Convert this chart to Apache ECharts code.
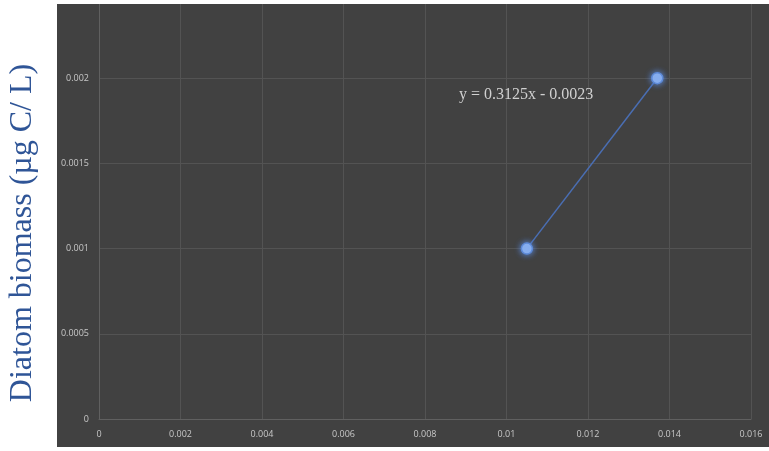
<!DOCTYPE html>
<html><head><meta charset="utf-8">
<script src="https://cdn.jsdelivr.net/npm/echarts@6/dist/echarts.min.js"></script>
<style>html,body{margin:0;padding:0;background:#fff}#c{width:769px;height:451px}</style>
</head><body><div id="c"></div>
<script>
const xValues = [0.0105, 0.0137];
const yValues = [0.001, 0.002];
const xTicks = ['0','0.002','0.004','0.006','0.008','0.01','0.012','0.014','0.016'];
const yTitle = 'Diatom biomass (µg C/ L)';
const equation = 'y = 0.3125x - 0.0023';

const chart = echarts.init(document.getElementById('c'), null, {renderer:'canvas'});
chart.setOption({
  backgroundColor: '#ffffff',
  animation: false,
  graphic: [
    {type:'rect', shape:{x:57, y:4, width:712, height:443}, style:{fill:'#414141'}, z:-10, silent:true},
    {type:'rect', shape:{x:0, y:0, width:769, height:4}, style:{fill:'#ffffff'}, z:100, silent:true},
    {type:'text', left:459, top:87, style:{text:equation, font:'16px "Liberation Serif", serif', fill:'#d0d0d0'}, z:50},
    {type:'text', x:23, y:233, rotation:Math.PI/2,
      style:{text:yTitle, font:'32px "Liberation Serif", "DejaVu Serif", serif', fill:'#2f5597', align:'center', verticalAlign:'middle'}, z:50}
  ],
  grid: {left:99, right:18, top:-7, bottom:32, containLabel:false, outerBoundsMode:'none'},
  xAxis: {
    type:'value', min:0, max:0.016, interval:0.002,
    axisLine:{show:true, lineStyle:{color:'#606060', width:1}},
    axisTick:{show:false},
    splitLine:{show:true, lineStyle:{color:'#535353', width:1}},
    axisLabel:{color:'#c8c8c8', fontSize:9, fontFamily:'"Open Sans", sans-serif', margin:11,
      formatter:(v)=>{const i=Math.round(v/0.002); return xTicks[i]!==undefined?xTicks[i]:'';}}
  },
  yAxis: {
    type:'value', min:0, max:0.0025, interval:0.0005,
    axisLine:{show:true, lineStyle:{color:'#606060', width:1}},
    axisTick:{show:false},
    splitLine:{show:true, lineStyle:{color:'#535353', width:1}},
    axisLabel:{color:'#c8c8c8', fontSize:9, fontFamily:'"Open Sans", sans-serif', margin:10,
      formatter:(v)=>v>0.00201?'':String(+v.toFixed(4))}
  },
  series: [{
    type:'line',
    data: xValues.map((x,i)=>[x, yValues[i]]),
    symbol:'circle', symbolSize:11,
    lineStyle:{color:'#4a6eb3', width:1.5},
    itemStyle:{color:'#92b6f2', borderColor:'#5d8ad8', borderWidth:1.5, shadowBlur:6, shadowColor:'#5b8ee6'}
  }]
});
</script></body></html>
